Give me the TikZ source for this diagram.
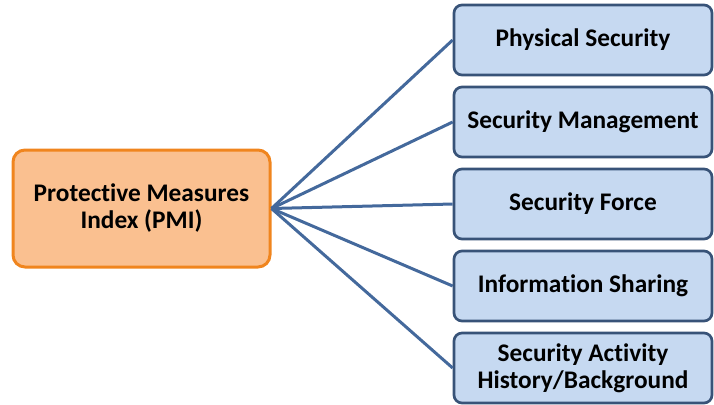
\documentclass[tikz,border=0pt]{standalone}
\usepackage{fontspec}
\setmainfont{Carlito}[Ligatures={NoCommon}]
\usetikzlibrary{positioning}
\definecolor{pmifill}{HTML}{FAC090}
\definecolor{pmiline}{HTML}{F0851E}
\definecolor{areafill}{HTML}{C6D9F1}
\definecolor{arealine}{HTML}{385378}
\definecolor{linkline}{HTML}{44699C}
\tikzstyle{index} = [
    rectangle,
    rounded corners=9pt,
    minimum width=192.75pt,
    minimum height=87.75pt,
    align=center,
    fill=pmifill,
    draw=pmiline,
    line width=2.25pt,
    font=\fontsize{19}{20.25}\selectfont\bfseries
]
\tikzstyle{area} = [
    rectangle,
    rounded corners=6pt,
    minimum width=193.5pt,
    minimum height=52.5pt,
    align=center,
    fill=areafill,
    draw=arealine,
    line width=2pt,
    font=\fontsize{19}{20.25}\selectfont\bfseries
]
\tikzstyle{link} = [draw=linkline, line width=2.25pt]

\begin{document}
\begin{tikzpicture}[x=0.75pt, y=-0.75pt, node distance=61.5pt]
\useasboundingbox (0,0) rectangle (714,404);

\node (pmi) [index] at (141.5,208.5) {Protective Measures\\Index (PMI)};

\node (phys) [area] at (583,40) {Physical Security};
\node (mgmt) [area, below of=phys] {Security Management};
\node (force) [area, below of=mgmt] {Security Force};
\node (info) [area, below of=force] {Information Sharing};
\node (hist) [area, below of=info] {Security Activity\\History/Background};

\draw [link] (pmi.east) -- (phys.west);
\draw [link] (pmi.east) -- (mgmt.west);
\draw [link] (pmi.east) -- (force.west);
\draw [link] (pmi.east) -- (info.west);
\draw [link] (pmi.east) -- (hist.west);

\end{tikzpicture}
\end{document}
